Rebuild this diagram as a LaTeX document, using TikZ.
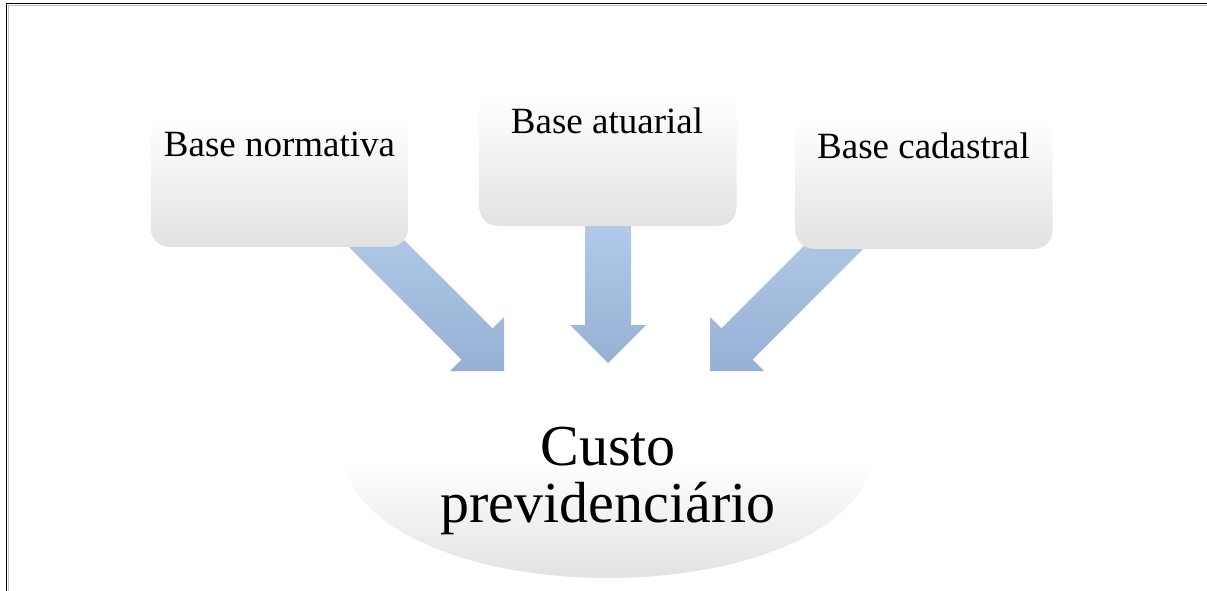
\documentclass[tikz,border=0pt]{standalone}
\usepackage{fontspec}
\setmainfont{Liberation Serif}
\definecolor{boxgray}{RGB}{226,226,226}
\definecolor{arrtop}{RGB}{182,205,235}
\definecolor{arrbot}{RGB}{150,176,212}
\pgfdeclareverticalshading{ellshade}{100bp}{color(0bp)=(boxgray); color(25bp)=(boxgray); color(49bp)=(white); color(100bp)=(white)}
\tikzset{
  boxnode/.style={shade, top color=white, bottom color=boxgray, rounded corners=18pt,
    minimum width=257pt, minimum height=132pt, inner sep=0pt, anchor=south},
  lbl/.style={font=\fontsize{37}{40}\selectfont, anchor=base, inner sep=0pt},
  biglbl/.style={font=\fontsize{58}{57}\selectfont, anchor=base, inner sep=0pt},
  blockarrow/.style={top color=arrtop, bottom color=arrbot, draw=none},
  frameline/.style={line width=1.1pt, black},
  frameshadow/.style={line width=0.8pt, black!25}
}
\begin{document}
\begin{tikzpicture}[x=1pt,y=-1pt]
\useasboundingbox (0,0) rectangle (1207,591);
% frame
\draw[frameshadow] (1207,5.2) -- (8.2,5.2) -- (8.2,591);
\draw[frameline] (1207,3.6) -- (6.8,3.6) -- (6.8,591);
% target ellipse
\shade[shading=ellshade] (608,458) ellipse [x radius=262pt, y radius=120pt];
\node[biglbl] (c1) at (608,465) {Custo};
\node[biglbl] (c2) at (608,522) {previdenciário};
% block arrows
\shade[blockarrow] (337.4,235.6) -- (368.6,204.4) -- (492.6,328.4) -- (504,317) -- (504,371)
  -- (450,371) -- (461.4,359.6) -- cycle;
\shade[blockarrow] (585,210) -- (631,210) -- (631,325) -- (646,325) -- (608,363) -- (570,325)
  -- (585,325) -- cycle;
\shade[blockarrow] (876.6,235.6) -- (845.4,204.4) -- (721.4,328.4) -- (710,317) -- (710,371)
  -- (764,371) -- (752.6,359.6) -- cycle;
% boxes
\node[boxnode] (bn) at (279.5,247) {};
\node[boxnode] (ba) at (608,226) {};
\node[boxnode] (bc) at (924,249) {};
\node[lbl] (tn) at (279.5,157) {Base normativa};
\node[lbl] (ta) at (607,134) {Base atuarial};
\node[lbl] (tc) at (923.5,158) {Base cadastral};
\end{tikzpicture}
\end{document}
